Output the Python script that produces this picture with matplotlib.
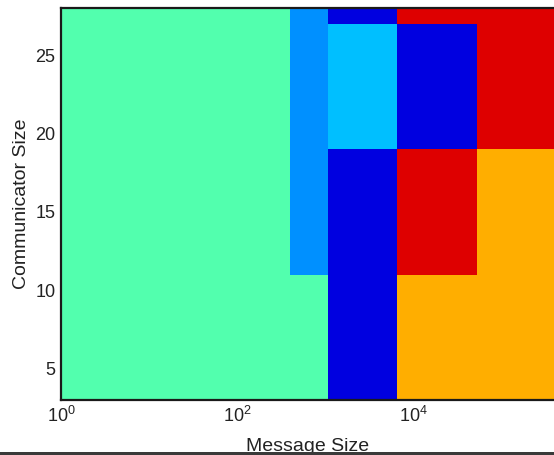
import matplotlib
matplotlib.use("Agg")
import matplotlib.pyplot as plt
import numpy as np
from matplotlib.colors import ListedColormap, BoundaryNorm
from matplotlib.patches import Rectangle

# Cell edges (message size on log axis, communicator size)
msg_edges = [1, 400, 1080, 6530, 53000, 398000]
comm_edges = [3, 11, 19, 27, 28]

# Best algorithm index per cell (rows: communicator bands bottom->top)
alg_row_3_11 = [0, 0, 3, 5, 5]
alg_row_11_19 = [0, 1, 3, 4, 5]
alg_row_19_27 = [0, 1, 2, 3, 4]
alg_row_27_28 = [0, 1, 3, 4, 4]

alg_colors = ["#52FFAE", "#0090FF", "#00BFFF", "#0000E0", "#DE0000", "#FFAE00"]

x_ticks = [1, 100, 10000]
y_ticks = [5, 10, 15, 20, 25]

plt.rcParams["font.family"] = ["Liberation Sans", "DejaVu Sans"]
plt.rcParams["mathtext.default"] = "regular"

fig = plt.figure(figsize=(5.54, 4.55), dpi=100)
ax = fig.add_axes([61 / 554, 55 / 455, 493 / 554, 392 / 455])

grid = np.array([alg_row_3_11, alg_row_11_19, alg_row_19_27, alg_row_27_28])
cmap = ListedColormap(alg_colors)
norm = BoundaryNorm(np.arange(-0.5, len(alg_colors) + 0.5), cmap.N)
ax.pcolormesh(msg_edges, comm_edges, grid, cmap=cmap, norm=norm, shading="flat")

ax.set_xscale("log")
ax.set_xlim(msg_edges[0], msg_edges[-1])
ax.set_ylim(comm_edges[0], comm_edges[-1])
ax.set_xticks(x_ticks)
ax.set_xticklabels([r"$10^{%d}$" % int(np.log10(v)) for v in x_ticks])
ax.xaxis.set_minor_locator(matplotlib.ticker.NullLocator())
ax.set_yticks(y_ticks)
ax.tick_params(axis="both", length=0, labelsize=13, colors="#222222")
ax.tick_params(axis="x", pad=4)
ax.tick_params(axis="y", pad=4)

for side in ["left", "bottom", "top"]:
    ax.spines[side].set_color("#1a1a1a")
    ax.spines[side].set_linewidth(1.6)
ax.spines["right"].set_visible(False)

ax.set_xlabel("Message Size", fontsize=14, color="#222222", labelpad=9)
ax.set_ylabel("Communicator Size", fontsize=14, color="#222222", labelpad=4)

fig.patches.append(Rectangle((0, 0), 1, 3.5 / 455, transform=fig.transFigure,
                             facecolor="#3a3a3a", edgecolor="none", zorder=10))

fig.savefig("out.png", dpi=100)
